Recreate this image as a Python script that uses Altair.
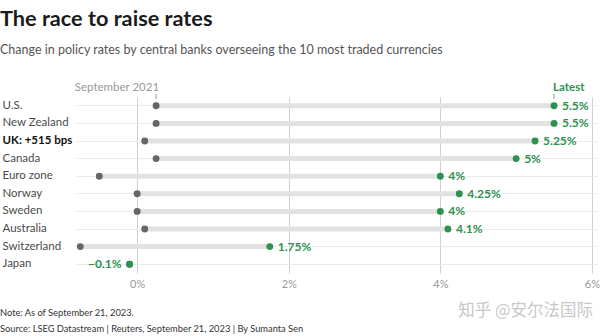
import altair as alt
import pandas as pd

countries = ["U.S.", "New Zealand", "UK: +515 bps", "Canada", "Euro zone",
             "Norway", "Sweden", "Australia", "Switzerland", "Japan"]
sep2021 = [0.25, 0.25, 0.1, 0.25, -0.5, 0.0, 0.0, 0.1, -0.75, -0.1]
latest = [5.5, 5.5, 5.25, 5.0, 4.0, 4.25, 4.0, 4.1, 1.75, -0.1]
latest_labels = ["5.5%", "5.5%", "5.25%", "5%", "4%", "4.25%", "4%", "4.1%", "1.75%", "\u22120.1%"]
x_ticks = [0, 2, 4, 6]

df = pd.DataFrame({"country": countries, "start": sep2021, "latest": latest, "label": latest_labels})

W, H = 523, 176
FONT = "Lato"
GREEN = "#2e9150"

xscale = alt.Scale(domain=[-0.82, 6.08], nice=False, zero=False)
yenc = alt.Y("country:N", sort=countries, title=None,
             scale=alt.Scale(paddingInner=0, paddingOuter=0),
             axis=alt.Axis(domain=False, ticks=False, labelAlign="left", labelPadding=73,
                           labelFontSize=11.5, labelFont=FONT,
                           labelColor=alt.condition("datum.value == 'UK: +515 bps'", alt.value("#111111"), alt.value("#4a4a4a")),
                           labelFontWeight=alt.condition("datum.value == 'UK: +515 bps'", alt.value("bold"), alt.value("normal")),
                           grid=True, bandPosition=0.5, gridColor="#ebebeb", gridWidth=1))

base = alt.Chart(df)

bars = base.mark_rule(strokeWidth=5, color="#e2e2e2").encode(
    x=alt.X("start:Q", scale=xscale, title=None,
            axis=alt.Axis(values=x_ticks, labelExpr="datum.value + '%'", domain=False, ticks=False,
                          labelPadding=5, labelFontSize=11, labelColor="#9a9a9a", labelFont=FONT,
                          grid=True, gridColor="#d0d0d0", gridWidth=1)),
    x2="latest:Q",
    y=yenc,
)

start_dots = base.mark_circle(size=48, color="#666666", opacity=1).encode(
    x=alt.X("start:Q", scale=xscale), y=alt.Y("country:N", sort=countries))
end_dots = base.mark_circle(size=48, color=GREEN, opacity=1).encode(
    x=alt.X("latest:Q", scale=xscale), y=alt.Y("country:N", sort=countries))

lab_right = base.transform_filter("datum.latest >= 0").mark_text(
    align="left", dx=8, fontWeight="bold", fontSize=12, color=GREEN, font=FONT).encode(
    x=alt.X("latest:Q", scale=xscale), y=alt.Y("country:N", sort=countries), text="label:N")
lab_left = base.transform_filter("datum.latest < 0").mark_text(
    align="right", dx=-8, fontWeight="bold", fontSize=12, color=GREEN, font=FONT).encode(
    x=alt.X("latest:Q", scale=xscale), y=alt.Y("country:N", sort=countries), text="label:N")

ann = pd.DataFrame({"x": [0.25, 5.5], "t": ["September 2021", "Latest"]})
sep_txt = alt.Chart(ann.iloc[[0]]).mark_text(align="right", dx=3, fontSize=11.5, color="#9a9a9a", font=FONT).encode(
    x=alt.X("x:Q", scale=xscale), y=alt.value(-9), text="t:N")
lat_txt = alt.Chart(ann.iloc[[1]]).mark_text(align="left", dx=-1, fontSize=11.5, fontWeight="bold", color=GREEN, font=FONT).encode(
    x=alt.X("x:Q", scale=xscale), y=alt.value(-9), text="t:N")
ann_ticks = alt.Chart(ann).mark_rule(color="#999999", strokeWidth=1).encode(
    x=alt.X("x:Q", scale=xscale), y=alt.value(-3), y2=alt.value(2))

texts = pd.DataFrame({
    "t": ["The race to raise rates",
          "Change in policy rates by central banks overseeing the 10 most traded currencies",
          "Note: As of September 21, 2023.",
          "Source: LSEG Datastream | Reuters, September 21, 2023 | By Sumanta Sen"],
})
title = alt.Chart(texts.iloc[[0]]).mark_text(align="left", baseline="alphabetic", fontSize=21.7, fontWeight="bold",
                                             color="#1a1a1a", font=FONT).encode(
    x=alt.value(-75), y=alt.value(26 - 97), text="t:N")
subtitle = alt.Chart(texts.iloc[[1]]).mark_text(align="left", baseline="middle", fontSize=12.5,
                                                color="#555555", font=FONT).encode(
    x=alt.value(-75), y=alt.value(50 - 97), text="t:N")
note = alt.Chart(texts.iloc[[2]]).mark_text(align="left", baseline="middle", fontSize=9.3,
                                            color="#333333", font=FONT).encode(
    x=alt.value(-75), y=alt.value(313 - 97), text="t:N")
source = alt.Chart(texts.iloc[[3]]).mark_text(align="left", baseline="middle", fontSize=9.3,
                                              color="#333333", font=FONT).encode(
    x=alt.value(-75), y=alt.value(329 - 97), text="t:N")
wm = alt.Chart(pd.DataFrame({"t": ["知乎 @安尔法国际"]})).mark_text(
    align="right", baseline="middle", fontSize=16.5, color="#c8c8c8", font="Noto Sans CJK SC").encode(
    x=alt.value(593 - 75), y=alt.value(311 - 97), text="t:N")

chart = alt.layer(bars, start_dots, end_dots, lab_right, lab_left, sep_txt, lat_txt, ann_ticks,
                  title, subtitle, note, source, wm).properties(
    width=W, height=H,
    autosize=alt.AutoSizeParams(type="none"),
    padding={"left": 75, "top": 97, "right": 9, "bottom": 63},
    background="white",
).configure_view(stroke=None)

chart.save("out.html", embed_options={"renderer": "svg", "actions": False})
